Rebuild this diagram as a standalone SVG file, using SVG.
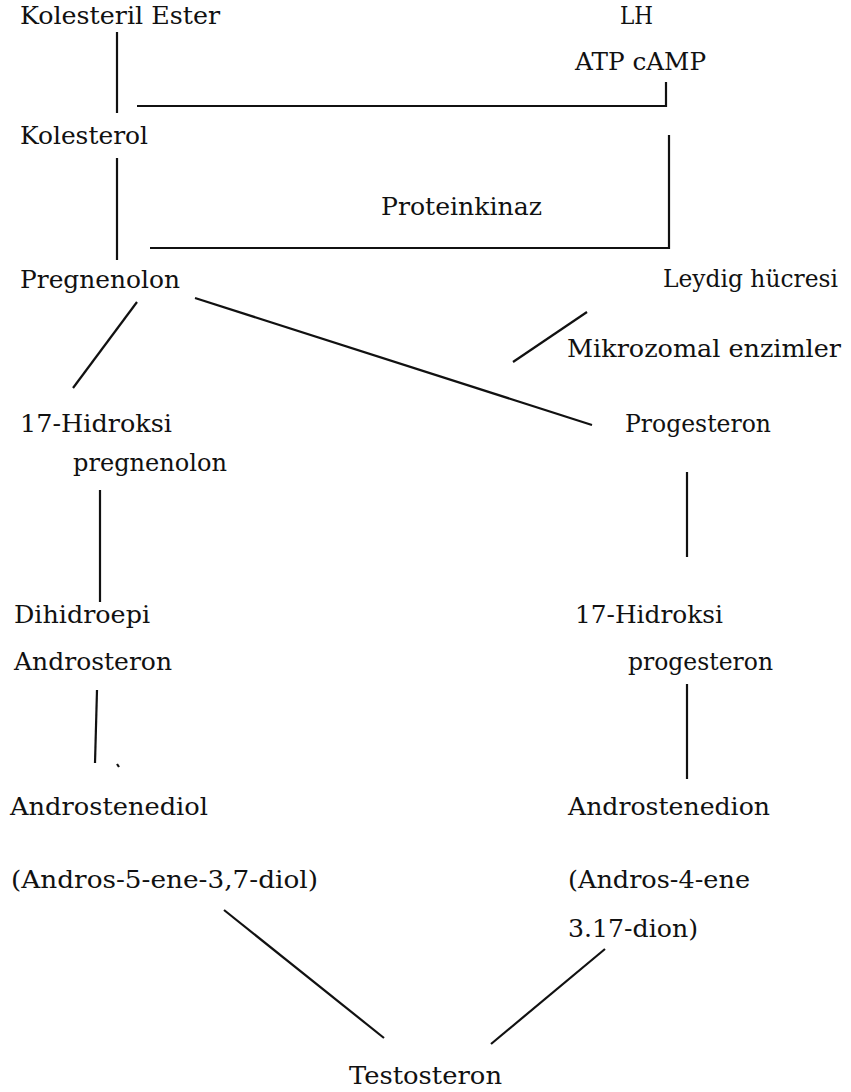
<svg xmlns="http://www.w3.org/2000/svg" width="851" height="1092" viewBox="0 0 851 1092">
<style>
text{font-family:"DejaVu Serif","Liberation Serif",serif;font-size:25px;fill:#111}
.c line,.c polyline{stroke:#111;stroke-width:2.2;fill:none;stroke-linecap:butt}
</style>
<rect width="851" height="1092" fill="#fff"/>
<g class="c" id="connectors">
<line x1="117" y1="32" x2="117" y2="113"/>
<polyline points="137,106 666,106 666,82"/>
<line x1="117" y1="158" x2="117" y2="260"/>
<polyline points="150,248 669,248 669,135"/>
<line x1="137" y1="302" x2="73" y2="388"/>
<line x1="195" y1="298" x2="592" y2="425"/>
<line x1="587" y1="312" x2="513" y2="362"/>
<line x1="100" y1="490" x2="100" y2="602"/>
<line x1="687" y1="472" x2="687" y2="557"/>
<line x1="97" y1="690" x2="95" y2="763"/>
<line x1="117" y1="764" x2="119" y2="767"/>
<line x1="687" y1="684" x2="687" y2="779"/>
<line x1="224" y1="910" x2="384" y2="1038"/>
<line x1="605" y1="949" x2="491" y2="1044"/>
</g>
<g id="kolesteril-ester"><text x="20" y="24" textLength="200" lengthAdjust="spacingAndGlyphs">Kolesteril  Ester</text></g>
<g id="lh"><text x="620" y="24" textLength="33" lengthAdjust="spacingAndGlyphs">LH</text></g>
<g id="atp-camp"><text x="575" y="70" textLength="131" lengthAdjust="spacingAndGlyphs">ATP  cAMP</text></g>
<g id="kolesterol"><text x="20" y="144" textLength="128" lengthAdjust="spacingAndGlyphs">Kolesterol</text></g>
<g id="proteinkinaz"><text x="381" y="215" textLength="161" lengthAdjust="spacingAndGlyphs">Proteinkinaz</text></g>
<g id="pregnenolon"><text x="20" y="288" textLength="160" lengthAdjust="spacingAndGlyphs">Pregnenolon</text></g>
<g id="leydig"><text x="663" y="287" textLength="175" lengthAdjust="spacingAndGlyphs">Leydig hücresi</text></g>
<g id="mikrozomal"><text x="567" y="357" textLength="274" lengthAdjust="spacingAndGlyphs">Mikrozomal  enzimler</text></g>
<g id="hidroksi-pregnenolon"><text x="20" y="432" textLength="152" lengthAdjust="spacingAndGlyphs">17-Hidroksi</text><text x="73" y="471" textLength="154" lengthAdjust="spacingAndGlyphs">pregnenolon</text></g>
<g id="progesteron"><text x="625" y="432" textLength="146" lengthAdjust="spacingAndGlyphs">Progesteron</text></g>
<g id="dhea"><text x="14" y="623" textLength="136" lengthAdjust="spacingAndGlyphs">Dihidroepi</text><text x="14" y="670" textLength="158" lengthAdjust="spacingAndGlyphs">Androsteron</text></g>
<g id="hidroksi-progesteron"><text x="575" y="623" textLength="148" lengthAdjust="spacingAndGlyphs">17-Hidroksi</text><text x="628" y="670" textLength="145" lengthAdjust="spacingAndGlyphs">progesteron</text></g>
<g id="androstenediol"><text x="10" y="815" textLength="198" lengthAdjust="spacingAndGlyphs">Androstenediol</text><text x="11" y="888" textLength="307" lengthAdjust="spacingAndGlyphs">(Andros-5-ene-3,7-diol)</text></g>
<g id="androstenedion"><text x="568" y="815" textLength="202" lengthAdjust="spacingAndGlyphs">Androstenedion</text><text x="568" y="888" textLength="182" lengthAdjust="spacingAndGlyphs">(Andros-4-ene</text><text x="568" y="937" textLength="130" lengthAdjust="spacingAndGlyphs">3.17-dion)</text></g>
<g id="testosteron"><text x="349" y="1084" textLength="153" lengthAdjust="spacingAndGlyphs">Testosteron</text></g>
</svg>
